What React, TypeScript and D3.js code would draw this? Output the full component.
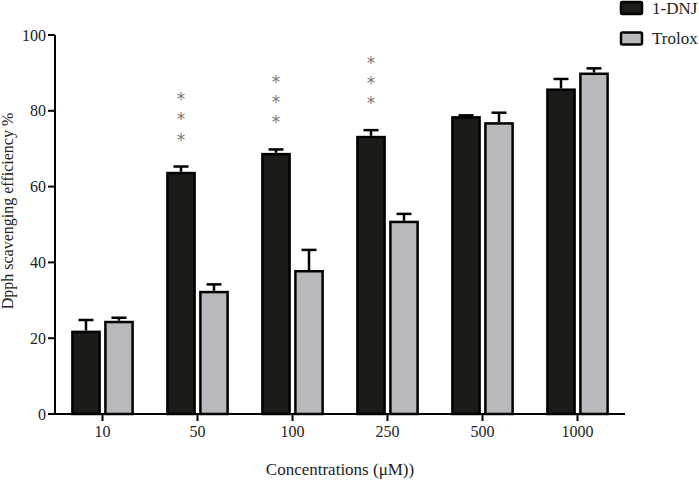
import React from "react";
import * as d3 from "d3";

const categories = ["10", "50", "100", "250", "500", "1000"];
const seriesNames = ["1-DNJ", "Trolox"];
const dnjValues = [22.0, 63.9, 68.9, 73.4, 78.6, 85.9];
const dnjErrors = [2.8, 1.4, 0.9, 1.5, 0.2, 2.5];
const troloxValues = [24.6, 32.5, 38.0, 51.0, 77.0, 90.1];
const troloxErrors = [0.8, 1.7, 5.3, 1.8, 2.5, 1.1];
const significance = ["", "***", "***", "***", "", ""];
const yTicks = [0, 20, 40, 60, 80, 100];

const W = 699;
const H = 484;
const left = 55;
const right = 625;
const top = 35;
const bottom = 414;
const FONT = "'Liberation Serif', 'Times New Roman', serif";
const colors = ["#1b1b17", "#b9b9bd"];

export default function App() {
  const x = d3.scaleBand<string>().domain(categories).range([left, right]).paddingInner(0.34).paddingOuter(0.17);
  const sub = d3.scaleBand<string>().domain(seriesNames).range([0, x.bandwidth()]).paddingInner(0.1);
  const y = d3.scaleLinear().domain([0, 100]).range([bottom, top]);
  const values = [dnjValues, troloxValues];
  const errors = [dnjErrors, troloxErrors];
  const sw = 2.5;

  return (
    <svg width={W} height={H} style={{ position: "absolute", left: 0, top: 0, background: "#fff" }} fontFamily={FONT}>
      {/* bars */}
      {categories.map((c, i) =>
        seriesNames.map((s, k) => {
          const v = values[k][i];
          const e = errors[k][i];
          const bx = (x(c) as number) + (sub(s) as number);
          const bw = sub.bandwidth();
          const cx = bx + bw / 2;
          return (
            <g key={c + s}>
              <line x1={cx} x2={cx} y1={y(v)} y2={y(v + e)} stroke="#000" strokeWidth={sw} />
              <line x1={cx - 7.5} x2={cx + 7.5} y1={y(v + e)} y2={y(v + e)} stroke="#000" strokeWidth={sw} />
              <rect
                x={bx + sw / 2}
                y={y(v) + sw / 2}
                width={bw - sw}
                height={bottom - y(v) - sw / 2}
                fill={colors[k]}
                stroke="#000"
                strokeWidth={sw}
              />
            </g>
          );
        })
      )}
      {/* significance stars */}
      {categories.map((c, i) => {
        const stars = significance[i].split("");
        if (!stars.length) return null;
        const cx = (x(c) as number) + (sub(seriesNames[0]) as number) + sub.bandwidth() / 2;
        const base = y(dnjValues[i] + dnjErrors[i]) - 30.5;
        return stars.map((st, j) => (
          <text
            key={c + j}
            x={cx}
            y={base - j * 20.3 + 9.5}
            textAnchor="middle"
            fontSize={17}
            fontFamily="'DejaVu Sans', sans-serif"
            fill="#7a7a7a"
          >
            {st}
          </text>
        ));
      })}
      {/* y axis */}
      <line x1={left} x2={left} y1={top} y2={bottom + 1} stroke="#000" strokeWidth={2} />
      {yTicks.map((t) => (
        <g key={t}>
          <line x1={left - 7} x2={left} y1={y(t)} y2={y(t)} stroke="#000" strokeWidth={2} />
          <text x={left - 9} y={y(t)} dy="0.35em" textAnchor="end" fontSize={16} fill="#222">
            {t}
          </text>
        </g>
      ))}
      {/* x axis */}
      <line x1={left - 1} x2={right} y1={bottom} y2={bottom} stroke="#000" strokeWidth={2} />
      {categories.map((c) => {
        const cx = (x(c) as number) + x.bandwidth() / 2;
        return (
          <g key={c}>
            <line x1={cx} x2={cx} y1={bottom} y2={bottom + 7} stroke="#000" strokeWidth={2} />
            <text x={cx} y={437} textAnchor="middle" fontSize={16} fill="#222">
              {c}
            </text>
          </g>
        );
      })}
      {/* axis titles */}
      <text x={340} y={475} textAnchor="middle" fontSize={17} fill="#222">
        Concentrations (μM))
      </text>
      <text transform={`translate(13,211) rotate(-90)`} textAnchor="middle" fontSize={16} fill="#222">
        Dpph scavenging efficiency %
      </text>
      {/* legend */}
      {seriesNames.map((s, k) => (
        <g key={s}>
          <rect x={621} y={2 + k * 30.5} width={21} height={12} rx={1.5} fill={colors[k]} stroke="#000" strokeWidth={2.5} />
          <text x={652} y={13.5 + k * 30} fontSize={17} fill="#222">
            {s}
          </text>
        </g>
      ))}
    </svg>
  );
}
